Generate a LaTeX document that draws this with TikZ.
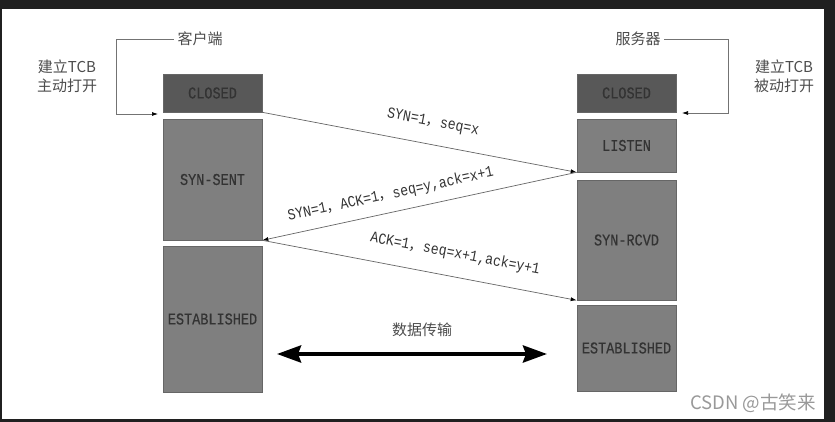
\documentclass[tikz,border=0pt]{standalone}
\usepackage{fontspec}
\newfontfamily\cjk{Noto Sans CJK SC}
\newfontfamily\boxfont[FakeStretch=0.82,FakeBold=0.4]{Liberation Mono}
\newfontfamily\lblfont[FakeStretch=0.85]{Liberation Mono}
\usetikzlibrary{arrows.meta}
\definecolor{frame}{HTML}{202020}
\definecolor{closedgray}{HTML}{585858}
\definecolor{stategray}{HTML}{7F7F7F}
\newcommand{\qc}{{\cjk\fontsize{14}{14}\selectfont ，}}

\begin{document}
\begin{tikzpicture}[x=1pt,y=-1pt,
  box/.style={draw=black!60,line width=.6pt,minimum width=99pt,inner sep=0pt,
    font=\boxfont\fontsize{16.5}{17}\selectfont,text=black!80},
  msg/.style={draw=black!60,line width=.7pt,-{Latex[length=6pt,width=4pt,black]}},
  lbl/.style={sloped,inner sep=1pt,font=\lblfont\fontsize{15.5}{16}\selectfont,text=black!80},
  captxt/.style={font=\cjk\fontsize{15}{19}\selectfont,text=black!70,align=center},
  brk/.style={draw=black!55,line width=.7pt,-{Latex[length=6pt,width=4pt,black]}}]
  \useasboundingbox (0,0) rectangle (835,422);
  \fill[frame] (0,0) rectangle (835,422);
  \fill[white] (2,9) rectangle (824,419);
  % states of both ends
  \foreach \nm/\x/\y/\h/\c/\txt in {cliClosed/212.5/93/38/closedgray/CLOSED,
      cliSynSent/212.5/179.5/121/stategray/SYN-SENT,
      cliEstab/212.5/319/146/stategray/ESTABLISHED,
      srvClosed/626.5/93/38/closedgray/CLOSED,
      srvListen/626.5/145.5/53/stategray/LISTEN,
      srvSynRcvd/626.5/240/120/stategray/SYN-RCVD,
      srvEstab/626.5/348/86/stategray/ESTABLISHED}
    \node[box,fill=\c,minimum height=\h pt] (\nm) at (\x,\y) {\txt};
  % handshake
  \draw[msg] (cliClosed.south east) -- (srvListen.south west)
    node[lbl,pos=.53,above=14pt] {SYN=1\qc seq=x};
  \draw[msg] (srvListen.south west) -- (cliSynSent.south east)
    node[lbl,pos=.58,above=9pt] {SYN=1\qc ACK=1\qc seq=y,ack=x+1};
  \draw[msg] (cliSynSent.south east) -- (srvSynRcvd.south west)
    node[lbl,pos=.6,above=14pt] {ACK=1\qc seq=x+1,ack=y+1};
  % open TCB
  \node[captxt] (cliName) at (200,39) {客户端};
  \node[captxt] (cliOpen) at (67,76) {建立TCB\\主动打开};
  \coordinate (cliIn) at (158,114);
  \draw[brk] (cliName.west) -- (116,39) |- (cliIn);
  \node[captxt] (srvName) at (638,39) {服务器};
  \node[captxt] (srvOpen) at (784,76) {建立TCB\\被动打开};
  \coordinate (srvIn) at (682,113);
  \draw[brk] (srvName.east) -- (728,39) |- (srvIn);
  % data transfer
  \node[captxt] (dataTxt) at (422,330) {数据传输};
  \coordinate (dataL) at (277,354);
  \coordinate (dataR) at (547,354);
  \draw[line width=4pt,{Stealth[length=24pt,width=17pt,inset=3pt]}-{Stealth[length=24pt,width=17pt,inset=3pt]}]
    (dataL) -- (dataR);
  \node[font=\cjk\fontsize{18.5}{20}\selectfont,text=black!40] (mark) at (753,403) {CSDN @古笑来};
\end{tikzpicture}
\end{document}
